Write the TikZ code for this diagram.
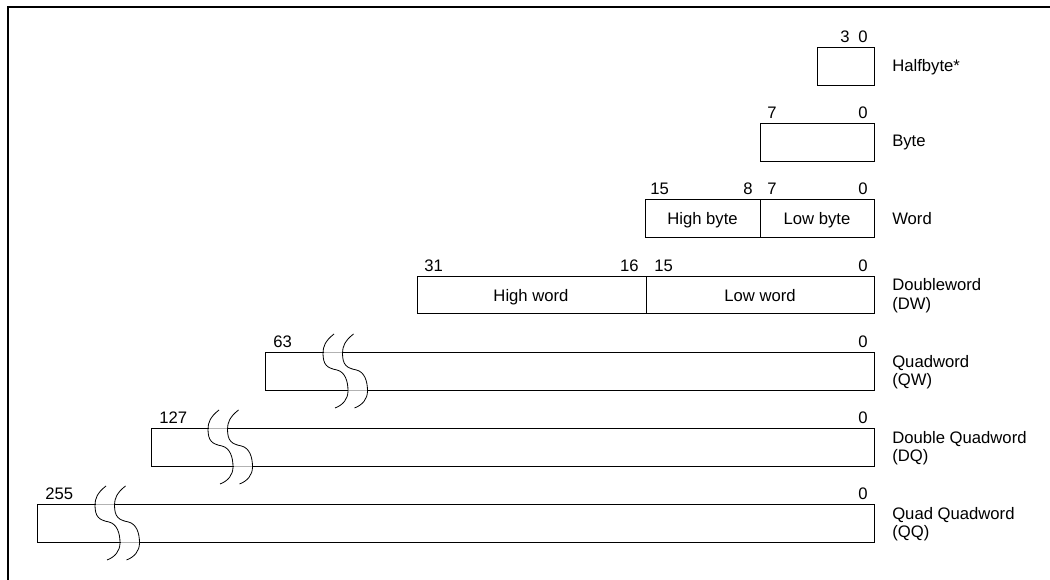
\documentclass[tikz,border=0pt]{standalone}
\usepackage{fontspec}
\setmainfont{Liberation Sans}
\begin{document}
\begin{tikzpicture}[x=0.75pt,y=-0.75pt,
  box/.style={draw=black,line width=0.75pt},
  num/.style={inner sep=0pt,font=\fontsize{12.5}{14}\selectfont},
  lbl/.style={inner sep=0pt,align=left,anchor=west,font=\fontsize{12.5}{13.9}\selectfont},
  inner/.style={inner sep=0pt,anchor=base,font=\fontsize{12.5}{14}\selectfont},
  brk/.pic={\draw[line width=0.6pt] (11,-19) .. controls (2,-12) and (0,-6) .. (0,0)
      .. controls (0,12) and (4,15) .. (14,17) .. controls (22,19) and (25,28) .. (25,38)
      .. controls (25,46) and (20,52) .. (12,55);},
  gap/.style={draw=black!30,line width=0.75pt}
]
\useasboundingbox (0,0) rectangle (1050,580);
% frame
\draw[line width=1.6pt] (8,580) -- (8,7) -- (1050,7);

% Halfbyte
\draw[box] (817,48) rectangle (874,86);
\node[num,anchor=base east] (hb3) at (850,43) {3};
\node[num,anchor=base east] (hb0) at (868,43) {0};
\node[lbl] (hbl) at (892,67) {Halfbyte*};

% Byte
\draw[box] (760,124) rectangle (874,162);
\node[num,anchor=base west] (b7) at (767,119) {7};
\node[num,anchor=base east] (b0) at (868,119) {0};
\node[lbl] (bl) at (892,143) {Byte};

% Word
\draw[box] (645,200) rectangle (874,238);
\draw[box] (760,200) -- (760,238);
\node[num,anchor=base west] (w15) at (650,195) {15};
\node[num,anchor=base east] (w8) at (753,195) {8};
\node[num,anchor=base west] (w7) at (767,195) {7};
\node[num,anchor=base east] (w0) at (868,195) {0};
\node[inner] (wh) at (702.5,225) {High byte};
\node[inner] (wl) at (817,225) {Low byte};
\node[lbl] (wlbl) at (892,219) {Word};

% Doubleword
\draw[box] (417,277) rectangle (874,314);
\draw[box] (646,277) -- (646,314);
\node[num,anchor=base west] (d31) at (424,272) {31};
\node[num,anchor=base east] (d16) at (639,272) {16};
\node[num,anchor=base west] (d15) at (654,272) {15};
\node[num,anchor=base east] (d0) at (868,272) {0};
\node[inner] (dh) at (531,301.5) {High word};
\node[inner] (dl) at (760,301.5) {Low word};
\node[lbl] (dlbl) at (892,295.5) {Doubleword\\(DW)};

% Quadword
\draw[box] (265,353) rectangle (874,391);
\draw[gap] (323.5,353) -- (342.5,353);
\draw[gap] (348,391) -- (367,391);
\pic at (323,353) {brk};
\pic at (342.5,353) {brk};
\node[num,anchor=base west] (q63) at (273,348) {63};
\node[num,anchor=base east] (q0) at (868,348) {0};
\node[lbl] (qlbl) at (892,372) {Quadword\\(QW)};

% Double Quadword
\draw[box] (151,429) rectangle (874,467);
\draw[gap] (208.5,429) -- (227.5,429);
\draw[gap] (233.5,467) -- (252.5,467);
\pic at (208,429) {brk};
\pic at (227.5,429) {brk};
\node[num,anchor=base west] (dq127) at (159,424) {127};
\node[num,anchor=base east] (dq0) at (868,424) {0};
\node[lbl] (dqlbl) at (892,448) {Double Quadword\\(DQ)};

% Quad Quadword
\draw[box] (37,505) rectangle (874,543);
\draw[gap] (95.5,505) -- (114.5,505);
\draw[gap] (120.5,543) -- (139.5,543);
\pic at (95,505) {brk};
\pic at (114.5,505) {brk};
\node[num,anchor=base west] (qq255) at (45,500) {255};
\node[num,anchor=base east] (qq0) at (868,500) {0};
\node[lbl] (qqlbl) at (892,524) {Quad Quadword\\(QQ)};
\end{tikzpicture}
\end{document}
